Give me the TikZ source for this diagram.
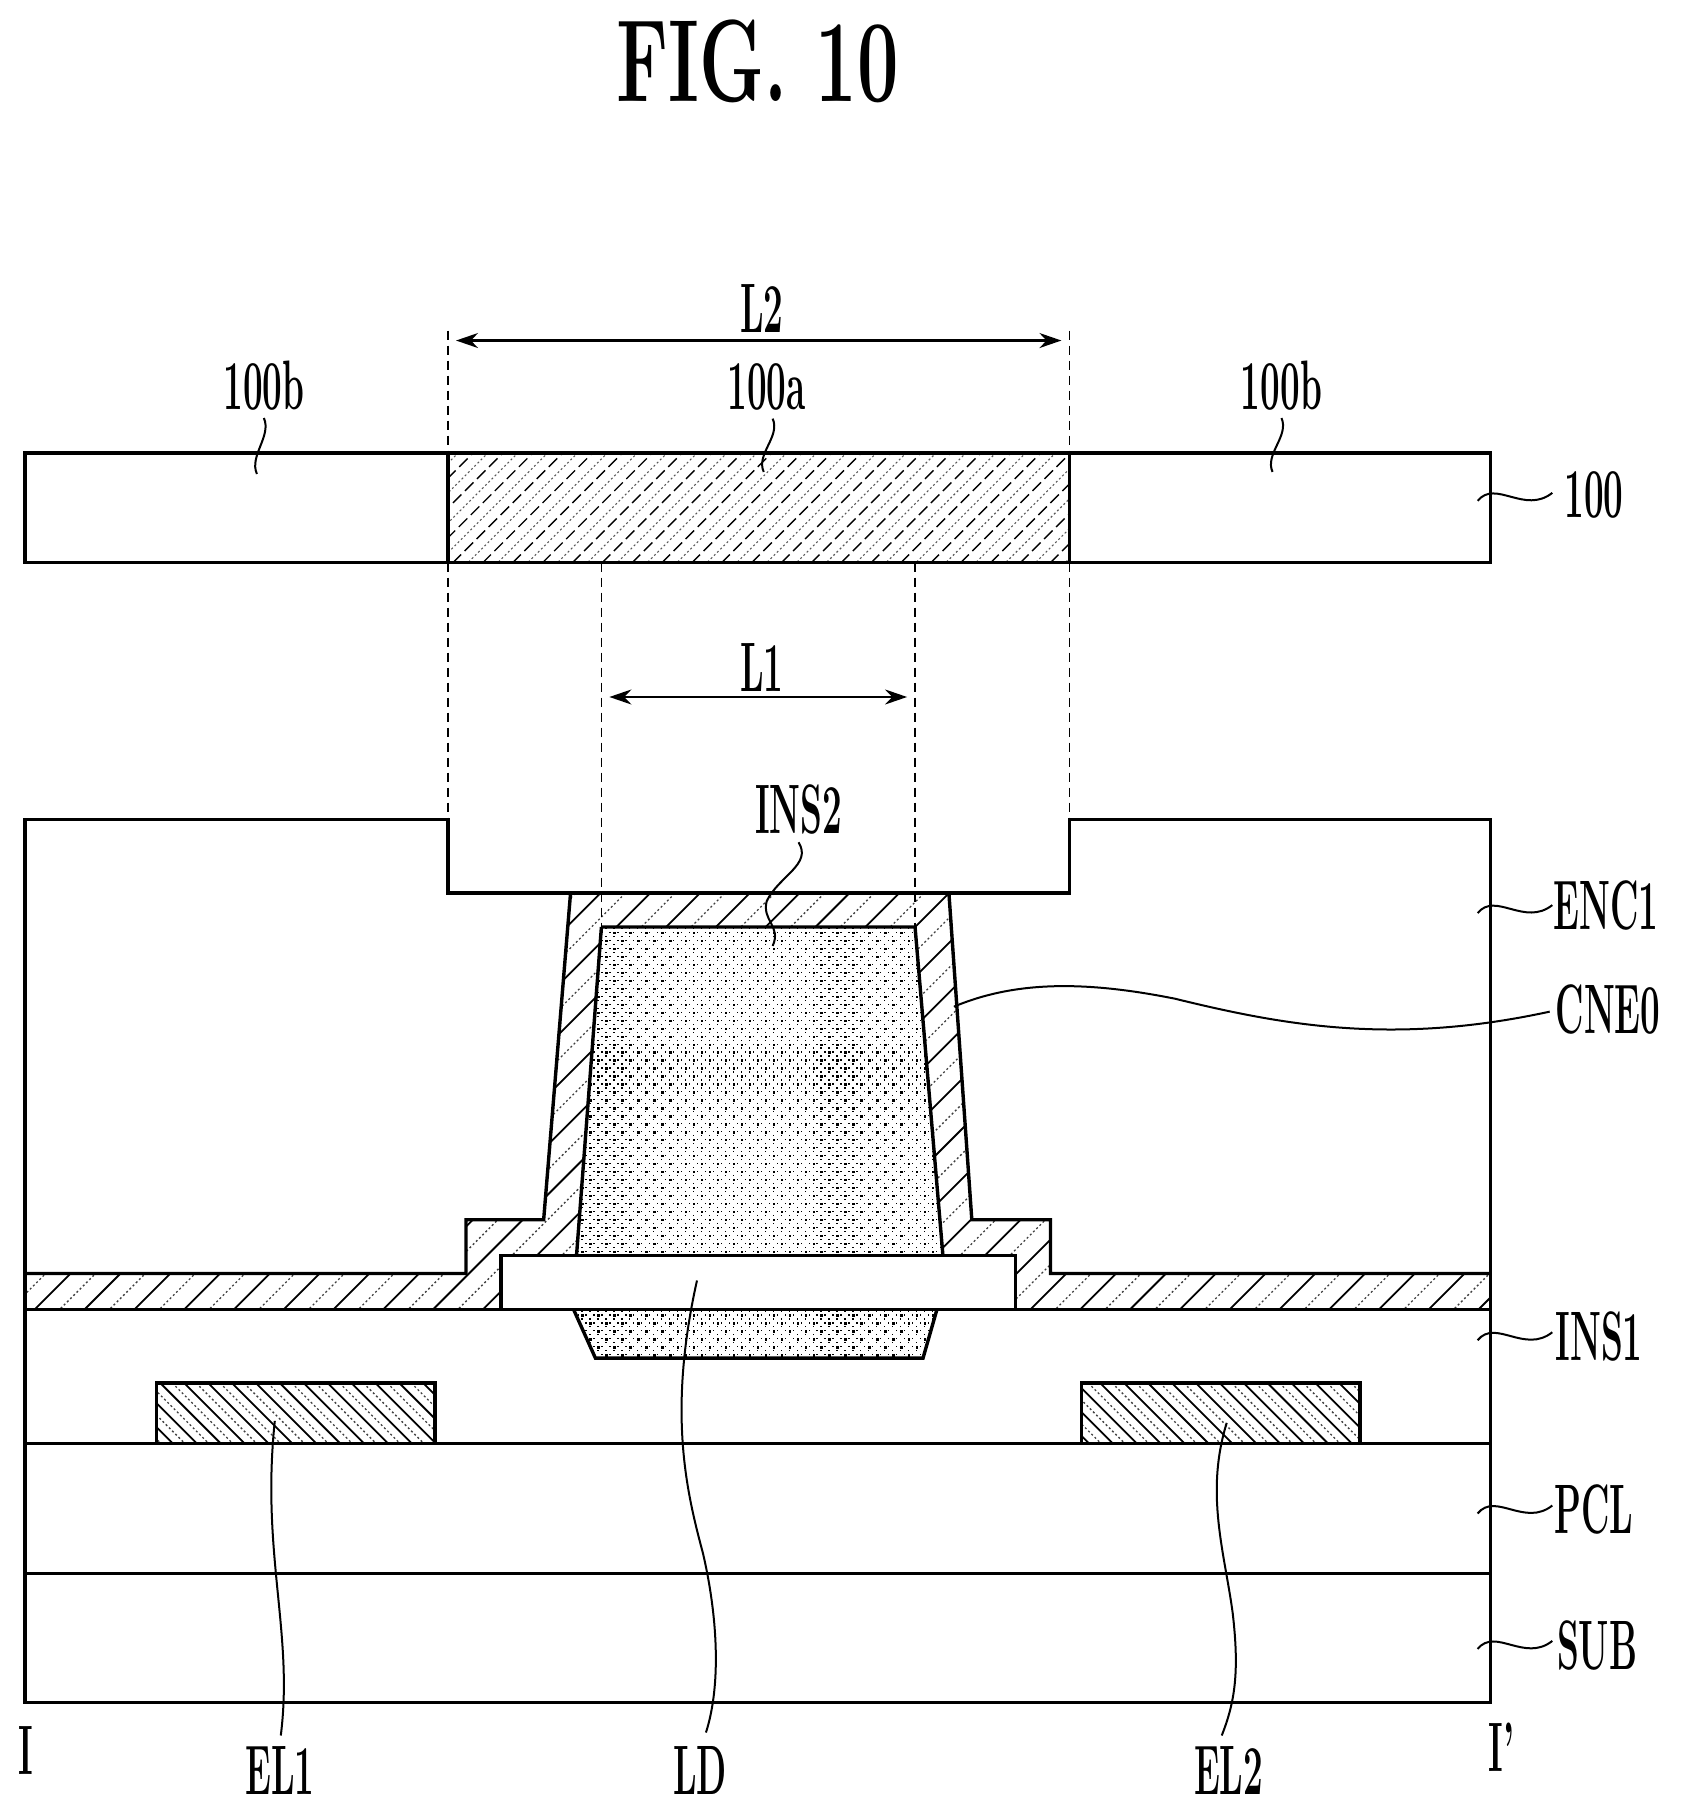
\documentclass[tikz,border=0pt]{standalone}
\usetikzlibrary{arrows.meta,calc}
\newcommand{\lbl}[1]{\scalebox{0.5}[1]{\fontsize{70}{70}\bfseries\selectfont #1}}
\tikzset{
  every node/.style={inner sep=0pt,outer sep=0pt,text=black},
  edge line/.style={draw=black,line width=3.4pt,line join=miter},
  leader/.style={draw=black,line width=2pt},
  guide/.style={draw=black,line width=1.8pt,dash pattern=on 9pt off 6pt},
  hatch solid/.style={draw=black,line width=1.8pt},
  hatch dot/.style={draw=black!75,line width=1.3pt,dash pattern=on 2pt off 2.5pt},
  dimension/.style={draw=black,line width=2.4pt,{Stealth[length=22pt,width=15pt]}-{Stealth[length=22pt,width=15pt]}},
}
\begin{document}
\begin{tikzpicture}[x=0.9957pt,y=-0.9957pt]
\useasboundingbox (0,0) rectangle (1688.25,1821.83);
\fill[white] (0,0) rectangle (1688.25,1821.83);

% ---- upper plate hatch
\begin{scope}
\clip (450,455) rectangle (1074,565);
\foreach \c in {500,530,...,1260}{\draw[hatch solid,line width=1.4pt,dash pattern=on 12pt off 5pt] (\c,400) -- ++(-300,300);}
\foreach \c in {515,545,...,1260}{\draw[hatch dot,line width=1.1pt,draw=black!65] (\c,400) -- ++(-300,300);}
\end{scope}

% ---- CNE hatch
\begin{scope}
\clip (25,1279) -- (468,1279) -- (468,1225) -- (546,1225) -- (573,897) -- (953,897) -- (976,1225) -- (1055,1225) -- (1055,1279) -- (1497,1279) -- (1497,1315) -- (1020,1315) -- (1020,1261) -- (947,1261) -- (919,931) -- (604,931) -- (579,1261) -- (503,1261) -- (503,1315) -- (25,1315) -- cycle;
\foreach \c in {700,750,...,2250}{\draw[hatch solid] (\c,600) -- ++(-900,900);}
\foreach \c in {725,775,...,2250}{\draw[hatch dot] (\c,600) -- ++(-900,900);}
\end{scope}

% ---- electrode hatch
\begin{scope}
\clip (157,1389) rectangle (437,1450);
\foreach \c in {-1300,-1276,...,-900}{\draw[hatch solid] (\c+1389,1389) -- ++(100,100);}
\foreach \c in {-1288,-1264,...,-900}{\draw[hatch dot] (\c+1389,1389) -- ++(100,100);}
\end{scope}
\begin{scope}
\clip (1086,1389) rectangle (1366,1450);
\foreach \c in {-380,-356,...,20}{\draw[hatch solid] (\c+1389,1389) -- ++(100,100);}
\foreach \c in {-368,-344,...,20}{\draw[hatch dot] (\c+1389,1389) -- ++(100,100);}
\end{scope}

% ---- stipple
\begin{scope}
\clip (604,931) -- (919,931) -- (947,1261) -- (579,1261) -- cycle;
\foreach \x in {576,592,...,950}\foreach \y in {928,944,...,1264}{
  \fill[black] (\x,\y) rectangle ++(2.4,2.4);
  \fill[black] (\x+8,\y+8) rectangle ++(2.4,2.4);
}
\foreach \x in {576,584,...,950}\foreach \y in {928,936,...,1264}{
  \fill[black] (\x+4,\y) rectangle ++(1.2,1.2);
  \fill[black] (\x,\y+4) rectangle ++(1.2,1.2);
}
\end{scope}
\begin{scope}
\clip (576,1315) -- (941,1315) -- (927,1364) -- (598,1364) -- cycle;
\foreach \x in {576,592,...,950}\foreach \y in {1312,1328,...,1368}{
  \fill[black] (\x,\y) rectangle ++(2.4,2.4);
  \fill[black] (\x+8,\y+8) rectangle ++(2.4,2.4);
}
\foreach \x in {576,584,...,950}\foreach \y in {1312,1320,...,1368}{
  \fill[black] (\x+4,\y) rectangle ++(1.2,1.2);
  \fill[black] (\x,\y+4) rectangle ++(1.2,1.2);
}
\end{scope}

% ---- guides
\draw[guide] (450,332) -- (450,455);
\draw[guide] (1074,332) -- (1074,455);
\draw[guide] (450,565) -- (450,823);
\draw[guide] (1074,565) -- (1074,823);
\draw[guide] (604,565) -- (604,931);
\draw[guide] (919,565) -- (919,931);

% ---- outlines
\draw[edge line] (25,455) rectangle (1497,565);
\draw[edge line] (450,455) -- (450,565);
\draw[edge line] (1074,455) -- (1074,565);
\draw[edge line] (450,823) -- (25,823) -- (25,1710) -- (1497,1710) -- (1497,823) -- (1074,823) -- (1074,897) -- (450,897) -- cycle;
\draw[edge line] (25,1279) -- (468,1279) -- (468,1225) -- (546,1225) -- (573,897);
\draw[edge line] (953,897) -- (976,1225) -- (1055,1225) -- (1055,1279) -- (1497,1279);
\draw[edge line] (604,931) -- (919,931) -- (947,1261);
\draw[edge line] (604,931) -- (579,1261);
\draw[edge line] (503,1315) -- (503,1261) -- (1020,1261) -- (1020,1315);
\draw[edge line] (25,1315) -- (1497,1315);
\draw[edge line] (576,1315) -- (598,1364) -- (927,1364) -- (941,1315);
\draw[edge line] (25,1450) -- (1497,1450);
\draw[edge line] (25,1580) -- (1497,1580);
\draw[edge line] (157,1450) -- (157,1389) -- (437,1389) -- (437,1450);
\draw[edge line] (1086,1450) -- (1086,1389) -- (1366,1389) -- (1366,1450);

% ---- dimensions
\coordinate (l2a) at (458,342);
\coordinate (l2b) at (1066,342);
\coordinate (l1a) at (612,700);
\coordinate (l1b) at (911,700);
\draw[dimension] (l2a) -- (l2b);
\draw[dimension] (l1a) -- (l1b);

% ---- labels
\node (title) at (761,62) {\scalebox{0.63}[1]{\fontsize{117}{117}\bfseries\selectfont FIG. 10}};
\node (tL2) at (765,310) {\lbl{L2}};
\node (tL1) at (765,670) {\lbl{L1}};
\node (t100bl) at (265,387) {\lbl{100b}};
\node (t100a) at (770,389) {\lbl{100a}};
\node (t100br) at (1287,387) {\lbl{100b}};
\node (t100) at (1601,497) {\lbl{100}};
\node (tINS2) at (802,813) {\lbl{INS2}};
\node (tENC1) at (1613,909) {\lbl{ENC1}};
\node (tCNE0) at (1615,1014) {\lbl{CNE0}};
\node (tINS1) at (1606,1342) {\lbl{INS1}};
\node (tPCL) at (1601,1516) {\lbl{PCL}};
\node (tSUB) at (1604,1653) {\lbl{SUB}};
\node (tI) at (26,1758) {\lbl{I}};
\node (tIp) at (1508,1755) {\lbl{I'}};
\node (tEL1) at (281,1778) {\lbl{EL1}};
\node (tLD) at (703,1778) {\lbl{LD}};
\node (tEL2) at (1234,1778) {\lbl{EL2}};

% ---- leaders
\coordinate (e100bl) at (258,476);
\coordinate (e100a) at (767,474);
\coordinate (e100br) at (1278,474);
\coordinate (eINS2) at (776,950);
\coordinate (eCNE0) at (958,1011);
\coordinate (eEL1) at (276,1427);
\coordinate (eLD) at (700,1286);
\coordinate (eEL2) at (1232,1429);
\coordinate (e100) at (1484,503);
\coordinate (eENC1) at (1484,917);
\coordinate (eINS1) at (1484,1346);
\coordinate (ePCL) at (1484,1520);
\coordinate (eSUB) at (1484,1656);

\draw[leader] (t100bl.south) ++(0,8) .. controls +(8,18) and +(-8,-18) .. (e100bl);
\draw[leader] (t100a.south) ++(6,8) .. controls +(8,18) and +(-8,-18) .. (e100a);
\draw[leader] (t100br.south) ++(0,8) .. controls +(8,18) and +(-8,-18) .. (e100br);
\draw[leader] (tINS2.south) ++(0,8) .. controls +(14,22) and +(12,-25) .. (770,905) .. controls (765,925) and (785,930) .. (eINS2);
\draw[leader] (eCNE0) .. controls (1020,985) and (1090,985) .. (1180,1003) .. controls (1290,1030) and (1400,1050) .. ($(tCNE0.west)+(-6,2)$);
\draw[leader] (eEL1) .. controls (262,1560) and (295,1640) .. (282,1743);
\draw[leader] (eLD) .. controls (670,1420) and (690,1500) .. (706,1560) .. controls (720,1620) and (725,1690) .. (709,1740);
\draw[leader] (eEL2) .. controls (1210,1500) and (1230,1560) .. (1238,1620) .. controls (1245,1680) and (1240,1710) .. (1227,1743);
\foreach \e in {e100,eENC1,eINS1,ePCL,eSUB}{
  \draw[leader] (\e) .. controls +(18,-22) and +(-28,22) .. ($(\e)+(75,-8)$);
}
\end{tikzpicture}
\end{document}
